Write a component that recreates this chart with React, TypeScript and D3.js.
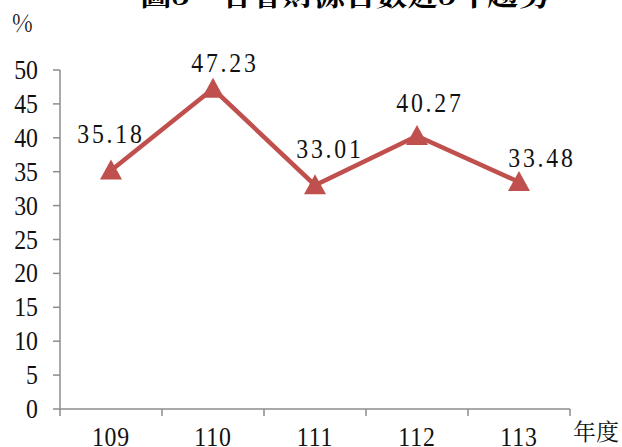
import React from "react";
import * as d3 from "d3";

const title = "圖3　各會財源合數近5年趨勢";
const categories = ["109", "110", "111", "112", "113"];
const values = [35.18, 47.23, 33.01, 40.27, 33.48];
const valueLabels = ["35.18", "47.23", "33.01", "40.27", "33.48"];
const yTicks = [0, 5, 10, 15, 20, 25, 30, 35, 40, 45, 50];
const yUnit = "%";
const xUnit = "年度";
// manual data label offsets (dx, dy from point)
const labelDx = [0, 12, 15, 13, 23];
const labelDy = [-27, -17, -27, -24, -15];

const W = 622;
const H = 447;
const left = 60;
const right = 570;
const top = 70;
const bottom = 409;
const red = "#C0504D";
const axisColor = "#8c8c8c";
const cjkSerif = '"Noto Serif CJK TC", "Liberation Serif", serif';
const numSerif = '"Liberation Serif", serif';
const sx = 0.85;

function Num({ x, y, text, anchor, spacing = 0 }: { x: number; y: number; text: string; anchor: string; spacing?: number }) {
  return (
    <text
      transform={`translate(${x},${y}) scale(${sx},1)`}
      textAnchor={anchor as any}
      fontFamily={numSerif}
      fontSize={28}
      letterSpacing={spacing}
      fill="#111"
    >
      {text}
    </text>
  );
}

export default function App() {
  const x = d3.scaleBand<string>().domain(categories).range([left, right]);
  const y = d3.scaleLinear().domain([0, 50]).range([bottom, top]);
  const cx = (c: string) => (x(c) as number) + x.bandwidth() / 2;
  const line = d3
    .line<number>()
    .x((_, i) => cx(categories[i]))
    .y((v) => y(v));
  const boundaries = d3.range(categories.length + 1).map((i) => left + i * x.bandwidth());
  const tri = (px: number, py: number) => `M${px},${py - 11}L${px + 11},${py + 9}L${px - 11},${py + 9}Z`;

  return (
    <svg width={W} height={H} style={{ position: "absolute", left: 0, top: 0, background: "#fff" }}>
      <text x={345} y={5} textAnchor="middle" fontFamily={cjkSerif} fontWeight={700} fontSize={31} fill="#000">
        {title}
      </text>
      <text transform={`translate(12,32) scale(0.9,1)`} fontFamily={cjkSerif} fontSize={25} fill="#111">
        {yUnit}
      </text>
      {/* y axis */}
      <line x1={left} x2={left} y1={top} y2={bottom} stroke={axisColor} strokeWidth={1.5} />
      {yTicks.map((t) => (
        <g key={t}>
          <line x1={left - 7} x2={left} y1={y(t)} y2={y(t)} stroke={axisColor} strokeWidth={1.5} />
          <Num x={38} y={y(t) + 9} text={String(t)} anchor="end" />
        </g>
      ))}
      {/* x axis */}
      <line x1={left} x2={right} y1={bottom} y2={bottom} stroke={axisColor} strokeWidth={1.5} />
      {boundaries.map((b, i) => (
        <line key={i} x1={b} x2={b} y1={bottom} y2={bottom + 7} stroke={axisColor} strokeWidth={1.5} />
      ))}
      {categories.map((c) => (
        <Num key={c} x={cx(c)} y={446} text={c} anchor="middle" spacing={1} />
      ))}
      <text x={596} y={440} textAnchor="middle" fontFamily={cjkSerif} fontSize={23} fill="#111">
        {xUnit}
      </text>
      {/* series */}
      <path d={line(values) || ""} fill="none" stroke={red} strokeWidth={4.5} strokeLinejoin="miter" />
      {values.map((v, i) => (
        <path key={i} d={tri(cx(categories[i]), y(v))} fill={red} />
      ))}
      {values.map((v, i) => (
        <Num key={"l" + i} x={cx(categories[i]) + labelDx[i]} y={y(v) + labelDy[i]} text={valueLabels[i]} anchor="middle" spacing={3.3} />
      ))}
    </svg>
  );
}
